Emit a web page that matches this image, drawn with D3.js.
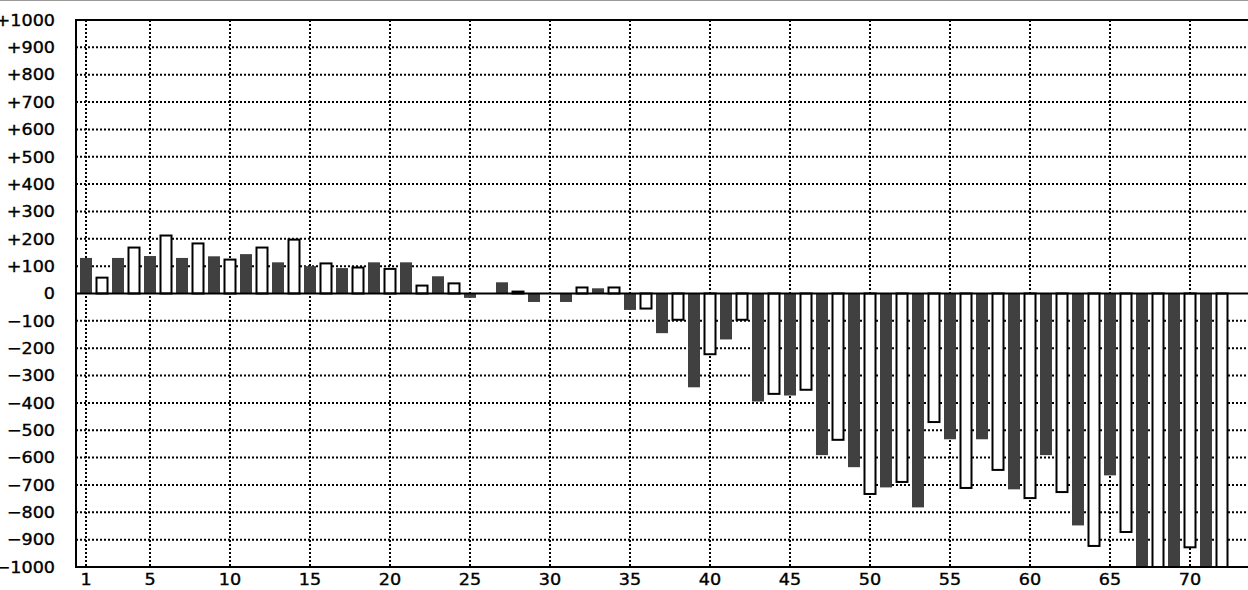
<!DOCTYPE html>
<html>
<head>
<meta charset="utf-8">
<script src="https://cdn.jsdelivr.net/npm/d3@7/dist/d3.min.js"></script>
<style>
  html, body { margin: 0; padding: 0; background: #fff; }
  svg { display: block; }
  text { font-family: "DejaVu Sans", Verdana, sans-serif; font-size: 16px; fill: #000; stroke: #000; stroke-width: 0.35px; }
</style>
</head>
<body>
<svg id="chart" width="1248" height="590"></svg>
<script>
// ---- data ----
const categories = d3.range(1, 73);
const values = [
  130, 58, 130, 168, 137, 212, 130, 183, 136, 124,
  144, 168, 114, 197, 100, 110, 93, 95, 114, 90,
  114, 29, 63, 37, -16, 0, 41, 7, -31, 0,
  -31, 22, 19, 22, -60, -55, -145, -96, -343, -222,
  -168, -96, -395, -367, -373, -352, -591, -535, -635, -733,
  -709, -689, -782, -470, -533, -711, -533, -645, -716, -748,
  -591, -726, -848, -923, -665, -872, -1000, -1000, -1000, -928,
  -1000, -1000
];
const yTicks = d3.range(-1000, 1001, 100);
const xTicks = [1, 5, 10, 15, 20, 25, 30, 35, 40, 45, 50, 55, 60, 65, 70];

// ---- layout ----
const svg = d3.select("#chart");
const pTop = 20, pBottom = 567, pLeft = 76, pRight = 1262;
const x = d3.scaleLinear().domain([0.375, 74.5]).range([pLeft, pRight]);
const y = d3.scaleLinear().domain([-1000, 1000]).range([pBottom, pTop]);
const barW = (x(2) - x(1)) * 0.75;
const sx = 1.1;

// top gray rule
svg.append("line").attr("x1", 0).attr("x2", 1248).attr("y1", 0.5).attr("y2", 0.5)
  .attr("stroke", "#999").attr("stroke-width", 1);

svg.append("defs").append("clipPath").attr("id", "plotclip")
  .append("rect").attr("x", pLeft).attr("y", pTop).attr("width", pRight - pLeft).attr("height", pBottom - pTop);

const plot = svg.append("g").attr("clip-path", "url(#plotclip)");

// grid
plot.append("g").selectAll("line").data(yTicks.filter(d => d !== 0 && Math.abs(d) !== 1000))
  .join("line")
  .attr("x1", pLeft).attr("x2", pRight)
  .attr("y1", d => y(d)).attr("y2", d => y(d))
  .attr("stroke", "#000").attr("stroke-width", 2).attr("stroke-dasharray", "2,2");
plot.append("g").selectAll("line").data(xTicks)
  .join("line")
  .attr("x1", d => x(d)).attr("x2", d => x(d))
  .attr("y1", pTop).attr("y2", pBottom)
  .attr("stroke", "#000").attr("stroke-width", 2).attr("stroke-dasharray", "2,2");

// bars
const data = categories.map((c, i) => ({ c, v: values[i] }));
plot.append("g").selectAll("rect").data(data).join("rect")
  .each(function (d) {
    const dark = d.c % 2 === 1;
    const y0 = y(0), y1 = y(d.v);
    const sel = d3.select(this);
    if (dark) {
      sel.attr("x", x(d.c) - barW / 2).attr("width", barW)
        .attr("y", Math.min(y0, y1)).attr("height", Math.abs(y1 - y0))
        .attr("fill", "#404040");
    } else {
      sel.attr("x", x(d.c) - barW / 2 + 0.5).attr("width", barW - 1)
        .attr("y", Math.min(y0, y1)).attr("height", Math.abs(y1 - y0))
        .attr("fill", "#fff").attr("stroke", "#000").attr("stroke-width", 2);
    }
  });

// zero line
plot.append("line").attr("x1", pLeft).attr("x2", pRight)
  .attr("y1", y(0)).attr("y2", y(0))
  .attr("stroke", "#000").attr("stroke-width", 2);

// frame
svg.append("rect").attr("x", pLeft).attr("y", pTop)
  .attr("width", pRight - pLeft).attr("height", pBottom - pTop)
  .attr("fill", "none").attr("stroke", "#000").attr("stroke-width", 2);

// y labels
svg.append("g").selectAll("text").data(yTicks).join("text")
  .attr("transform", d => `translate(55,${y(d)}) scale(${sx},1)`)
  .attr("dy", "0.36em")
  .attr("text-anchor", "end")
  .text(d => d > 0 ? "+" + d : (d < 0 ? "\u2212" + Math.abs(d) : "0"));

// x labels
svg.append("g").selectAll("text").data(xTicks).join("text")
  .attr("transform", d => `translate(${x(d)},585) scale(${sx},1)`)
  .attr("text-anchor", "middle")
  .text(d => d);
</script>
</body>
</html>
